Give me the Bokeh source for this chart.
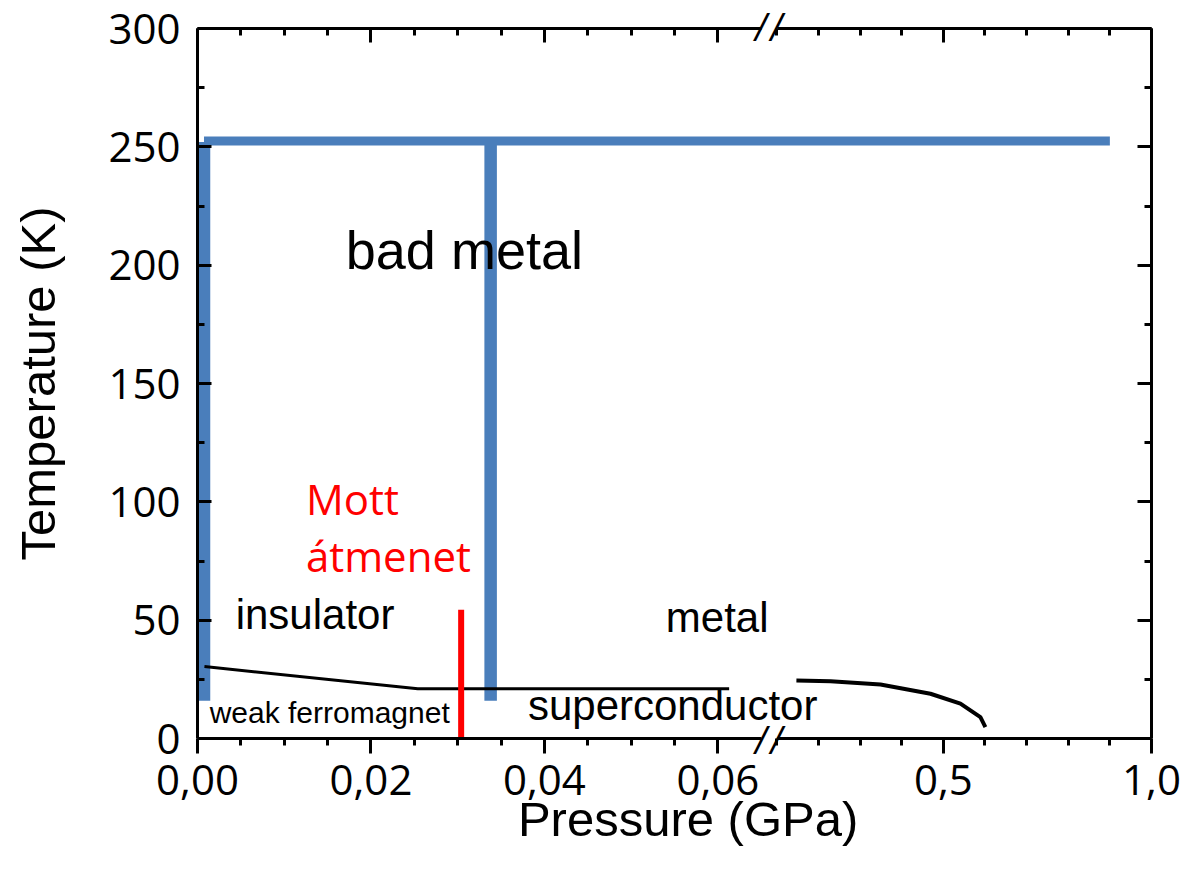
import numpy as np
from bokeh.plotting import figure
from bokeh.models import Range1d, LinearAxis, FixedTicker, Label
from bokeh.embed import file_html
from bokeh.resources import INLINE

# ---------------- data ----------------
x_major = [0.0, 0.02, 0.04, 0.06, 0.5, 1.0]
x_major_labels = ["0,00", "0,02", "0,04", "0,06", "0,5", "1,0"]
x_minor = [0.005, 0.01, 0.015, 0.025, 0.03, 0.035, 0.045, 0.05, 0.055,
           0.1, 0.2, 0.3, 0.4, 0.6, 0.7, 0.8, 0.9]
y_major = [0, 50, 100, 150, 200, 250, 300]
y_minor = [25, 75, 125, 175, 225, 275]
x_break = [0.065, 0.1]          # axis break between these pressures

# bad-metal crossover (blue)
blue_v_p = [0.00075, 0.0338]
blue_v_T = [16, 252]
blue_h_p = [0.00075, 0.9]
blue_h_T = [252.5, 252.5]

# Mott transition (red)
mott_p = [0.0304, 0.0304]
mott_T = [54.4, -3.3]

# ferromagnet / superconductor boundary (left part)
fm_p = [0.0008, 0.0254, 0.0613]
fm_T = [30.4, 21.0, 21.0]
# superconducting dome (right part)
sc_p = [0.147, 0.229, 0.349, 0.469, 0.541, 0.589, 0.601]
sc_T = [24.5, 24.2, 22.8, 18.9, 14.7, 9.0, 4.8]

# region labels: (text, pressure, temperature, size)
labels_main = [("bad metal", 0.0171, 206.6, "54px"),
               ("insulator", 0.0044, 52.4, "42px"),
               ("metal", 0.054, 51.3, "42px"),
               ("superconductor", 0.0381, 13.9, "42px"),
               ("weak ferromagnet", 0.0014, 10.8, "30px")]
labels_red = [("Mott", 0.0125, 101.4), ("átmenet", 0.0125, 77.3)]

# ---------------- broken axis mapping ----------------
LEFT_SCALE = 1000.0
RIGHT_SCALE = 48.0
RIGHT_END = 110.0


def u(p):
    p = np.asarray(p, dtype=float)
    return np.round(np.where(p <= 0.07, p * LEFT_SCALE,
                             RIGHT_END - (1.0 - p) * RIGHT_SCALE), 6)


ARIAL = "Liberation Sans"
TICKF = "Open Sans"
FRAME_W = 954

p = figure(frame_width=FRAME_W, frame_height=710,
           x_range=Range1d(0, RIGHT_END), y_range=Range1d(0, 300),
           min_border_left=197, min_border_right=30,
           min_border_top=28, min_border_bottom=130,
           x_axis_location=None, y_axis_location=None,
           output_backend="svg", toolbar_location=None)
p.outline_line_color = None
p.background_fill_color = "white"
p.border_fill_color = "white"
p.xgrid.grid_line_color = None
p.ygrid.grid_line_color = None

xt = FixedTicker(ticks=list(u(x_major)), minor_ticks=list(u(x_minor)))
yt = FixedTicker(ticks=y_major, minor_ticks=y_minor)
overrides = {float(k): lab for k, lab in zip(u(x_major), x_major_labels)}

# gap in the x axis lines at the break (dash pattern along the axis line)
bu = u(x_break)
px_per_unit = FRAME_W / RIGHT_END
gap_start = int(round(float(bu[0]) * px_per_unit))
gap_len = int(round(float(bu[1] - bu[0]) * px_per_unit))
x_axis_dash = f"{gap_start} {gap_len} {FRAME_W}"


def style(ax, tin):
    ax.axis_line_width = 3
    ax.axis_line_color = "black"
    ax.major_tick_line_width = 3
    ax.minor_tick_line_width = 3
    ax.major_tick_line_color = "black"
    ax.minor_tick_line_color = "black"
    ax.major_tick_in, ax.major_tick_out = (14, 0) if tin else (0, 15)
    ax.minor_tick_in, ax.minor_tick_out = (7, 0) if tin else (0, 7)
    ax.major_label_text_color = "black"
    ax.axis_label_text_color = "black"


xb = LinearAxis(ticker=xt, major_label_overrides=overrides,
                axis_label="\u00a0\u00a0Pressure (GPa)")
style(xb, False)
xb.axis_line_dash = x_axis_dash
xb.major_label_text_font = TICKF
xb.major_label_text_font_size = "42px"
xb.major_label_standoff = 11
xb.axis_label_text_font = ARIAL
xb.axis_label_text_font_size = "49px"
xb.axis_label_text_font_style = "normal"
xb.axis_label_standoff = -6
p.add_layout(xb, "below")

yl = LinearAxis(ticker=yt, axis_label="Temperature (K)")
style(yl, True)
yl.major_label_text_font = TICKF
yl.major_label_text_font_size = "42px"
yl.major_label_standoff = 17
yl.axis_label_text_font = ARIAL
yl.axis_label_text_font_size = "49px"
yl.axis_label_text_font_style = "normal"
yl.axis_label_standoff = 40
p.add_layout(yl, "left")

xtop = LinearAxis(ticker=xt)
style(xtop, True)
xtop.axis_line_dash = x_axis_dash
xtop.major_label_text_alpha = 0
xtop.major_label_text_font_size = "1px"
p.add_layout(xtop, "above")

yr = LinearAxis(ticker=yt)
style(yr, True)
yr.major_label_text_alpha = 0
yr.major_label_text_font_size = "1px"
p.add_layout(yr, "right")

# axis-break marks "//": drawn as tick labels of extra, line-less axes
brk_ticker = FixedTicker(ticks=list(bu), minor_ticks=[])
brk_over = {float(k): "/" for k in bu}


def break_axis(standoff):
    ax = LinearAxis(ticker=brk_ticker, major_label_overrides=brk_over)
    ax.axis_line_color = None
    ax.major_tick_line_color = None
    ax.minor_tick_line_color = None
    ax.major_tick_in = ax.major_tick_out = 0
    ax.minor_tick_in = ax.minor_tick_out = 0
    ax.major_label_text_font = "DejaVu Sans"
    ax.major_label_text_font_style = "italic"
    ax.major_label_text_font_size = "34px"
    ax.major_label_text_color = "black"
    ax.major_label_standoff = standoff
    return ax


p.add_layout(break_axis(-17), "above")
p.add_layout(break_axis(-130), "below")

BLUE = "#4a7ebb"
for bp in blue_v_p:
    p.line(x=list(u([bp, bp])), y=blue_v_T, line_color=BLUE, line_width=12.5)
p.line(x=list(u(blue_h_p)), y=blue_h_T, line_color=BLUE, line_width=9)

p.line(x=list(u(fm_p)), y=fm_T, line_color="black", line_width=3)
p.line(x=list(u(sc_p)), y=sc_T, line_color="black", line_width=4)

mu = u(mott_p)
p.line(x=list(mu), y=mott_T, line_color="#ff0000", line_width=6)

for txt, tp, tT, fs in labels_main:
    p.add_layout(Label(x=float(u(tp)), y=tT, text=txt, text_font=ARIAL,
                       text_font_size=fs, text_color="black",
                       text_baseline="middle", text_align="left"))
for txt, tp, tT in labels_red:
    p.add_layout(Label(x=float(u(tp)), y=tT, text=txt, text_font=TICKF,
                       text_font_size="42px", text_color="#ff0000",
                       text_baseline="middle", text_align="left"))

open("out.html", "w").write(file_html(p, INLINE))
